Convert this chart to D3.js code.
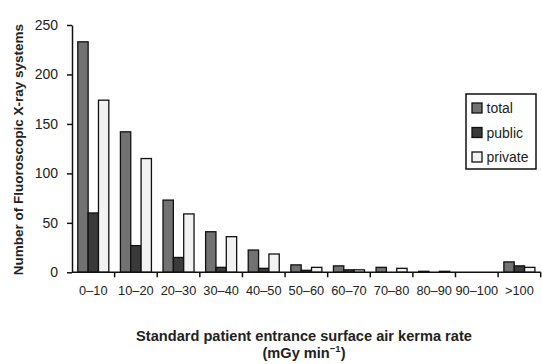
<!DOCTYPE html>
<html>
<head>
<meta charset="utf-8">
<script src="https://cdn.jsdelivr.net/npm/d3@7"></script>
<style>
  body { margin: 0; background: #fff; }
  svg { display: block; font-family: "Liberation Sans", Arial, sans-serif; }
</style>
</head>
<body>
<svg id="chart" width="542" height="364"></svg>
<script>
// bins of entrance surface air kerma rate
const categories = ["0\u201310", "10\u201320", "20\u201330", "30\u201340", "40\u201350", "50\u201360",
                    "60\u201370", "70\u201380", "80\u201390", "90\u2013100", ">100"];
const totalValues   = [233, 142, 73, 41, 22.5, 7.5, 6.5, 5, 1, 0, 10.5];
const publicValues  = [60, 27, 15, 5, 4, 2, 2.5, 0, 0, 0, 6.5];
const privateValues = [174, 115, 59, 36, 18.5, 5, 2.5, 4, 1, 0, 5];
const seriesNames = ["total", "public", "private"];
const yTicks = [0, 50, 100, 150, 200, 250];

const colors = { total: "#727272", public: "#3a3a3a", private: "#f2f2f2" };

const svg = d3.select("#chart");
const margin = { left: 72, top: 25, right: 1.3, bottom: 92 };
const W = 542, H = 364;
const plotH = H - margin.top - margin.bottom + 0.3;

const x = d3.scaleBand().domain(categories)
    .range([margin.left, W - margin.right]).paddingInner(0).paddingOuter(0);
const y = d3.scaleLinear().domain([0, 250]).range([margin.top + plotH, margin.top]);
// three bars per group, group takes ~73% of the category band
const xs = d3.scaleBand().domain(seriesNames).range([0, x.bandwidth()]).paddingInner(0).paddingOuter(0.56);

const rows = categories.map((c, i) => ({
    cat: c,
    vals: [
        { key: "total", v: totalValues[i] },
        { key: "public", v: publicValues[i] },
        { key: "private", v: privateValues[i] }
    ]
}));

// bars
const groups = svg.append("g").selectAll("g")
    .data(rows).join("g")
    .attr("transform", d => `translate(${x(d.cat)},0)`);

groups.selectAll("rect")
    .data(d => d.vals.filter(b => b.v > 0))
    .join("rect")
    .attr("x", d => xs(d.key))
    .attr("width", xs.bandwidth())
    .attr("y", d => y(d.v))
    .attr("height", d => y(0) - y(d.v))
    .attr("fill", d => colors[d.key])
    .attr("stroke", "#111")
    .attr("stroke-width", 1.3);

// y axis
const yAxis = svg.append("g")
    .attr("transform", `translate(${margin.left},0)`)
    .call(d3.axisLeft(y).tickValues(yTicks).tickSize(5).tickPadding(9).tickSizeOuter(0));
yAxis.select(".domain").attr("stroke", "#111").attr("stroke-width", 1.5);
yAxis.selectAll(".tick line").attr("stroke", "#111").attr("stroke-width", 1.5);
yAxis.selectAll(".tick text").attr("font-size", 14).attr("fill", "#222")
    .attr("font-family", "Liberation Sans, Arial, sans-serif");

// x axis with ticks at band boundaries
const xAxisG = svg.append("g").attr("transform", `translate(0,${y(0)})`);
xAxisG.append("line")
    .attr("x1", margin.left).attr("x2", W - margin.right)
    .attr("stroke", "#111").attr("stroke-width", 1.5);
const bounds = categories.map(c => x(c)).concat([x(categories[categories.length - 1]) + x.bandwidth()]);
xAxisG.selectAll("line.tk").data(bounds.slice(1)).join("line")
    .attr("class", "tk")
    .attr("x1", d => d).attr("x2", d => d)
    .attr("y1", 0).attr("y2", 5)
    .attr("stroke", "#111").attr("stroke-width", 1.5);
xAxisG.selectAll("text").data(categories).join("text")
    .attr("x", d => x(d) + x.bandwidth() / 2)
    .attr("y", 23)
    .attr("text-anchor", "middle")
    .attr("font-size", 12.8)
    .attr("fill", "#222")
    .text(d => d);

// axis titles
svg.append("text")
    .attr("transform", `translate(23,${margin.top + plotH / 2 + 1}) rotate(-90)`)
    .attr("text-anchor", "middle")
    .attr("font-size", 13.5).attr("font-weight", "bold").attr("fill", "#222")
    .text("Number of Fluoroscopic X-ray systems");

svg.append("text")
    .attr("x", 304).attr("y", 340.5).attr("text-anchor", "middle")
    .attr("font-size", 14.6).attr("font-weight", "bold").attr("fill", "#222")
    .text("Standard patient entrance surface air kerma rate");
const xt2 = svg.append("text")
    .attr("x", 304).attr("y", 357.5).attr("text-anchor", "middle")
    .attr("font-size", 14.6).attr("font-weight", "bold").attr("fill", "#222");
xt2.append("tspan").text("(mGy min");
xt2.append("tspan").attr("dy", -5.5).attr("font-size", 9.5).text("\u22121");
xt2.append("tspan").attr("dy", 5.5).text(")");

// legend
const leg = svg.append("g").attr("transform", "translate(466,94)");
leg.append("rect").attr("width", 70).attr("height", 75)
    .attr("fill", "#fff").attr("stroke", "#111").attr("stroke-width", 1.5);
const li = leg.selectAll("g.item").data(seriesNames).join("g")
    .attr("class", "item")
    .attr("transform", (d, i) => `translate(6,${9 + i * 24.5})`);
li.append("rect").attr("width", 10).attr("height", 10)
    .attr("fill", d => colors[d]).attr("stroke", "#111").attr("stroke-width", 1.3);
li.append("text").attr("x", 14.5).attr("y", 10)
    .attr("font-size", 14).attr("fill", "#222")
    .text(d => d);
</script>
</body>
</html>
